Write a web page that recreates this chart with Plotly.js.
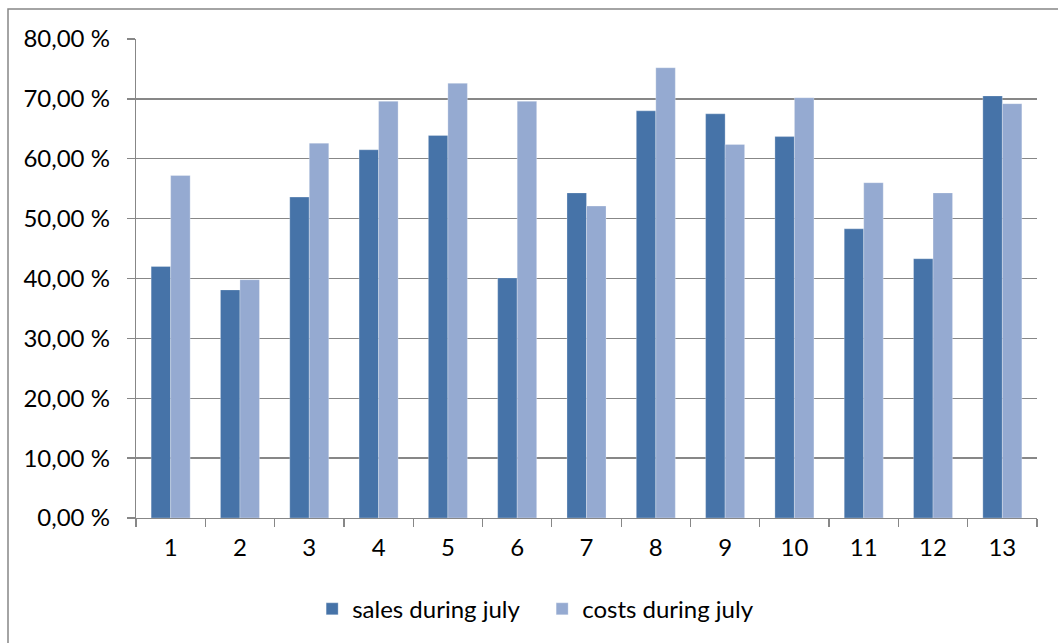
<!DOCTYPE html>
<html>
<head>
<meta charset="utf-8">
<script src="https://cdn.plot.ly/plotly-3.0.1.min.js"></script>
<style>
  html, body { margin: 0; padding: 0; background: #ffffff; }
  #chart { width: 1058px; height: 643px; }
</style>
</head>
<body>
<div id="chart"></div>
<script>
// Category labels along the x axis
const days = ['1', '2', '3', '4', '5', '6', '7', '8', '9', '10', '11', '12', '13'];

// Percent values per category
const salesJuly = [42.0, 38.1, 53.6, 61.5, 63.9, 40.1, 54.3, 68.0, 67.5, 63.7, 48.3, 43.3, 70.5];
const costsJuly = [57.2, 39.8, 62.6, 69.6, 72.6, 69.6, 52.1, 75.2, 62.4, 70.2, 56.0, 54.3, 69.2];

// Series names shown in the legend
const seriesNames = ['sales during july', 'costs during july'];

const FONT = 'Lato, "Open Sans", "DejaVu Sans", sans-serif';

const traces = [
  {
    type: 'bar',
    name: seriesNames[0],
    x: days,
    y: salesJuly,
    marker: { color: '#4673A8', line: { color: 'rgba(255,255,255,0.35)', width: 0.8 } },
    hoverinfo: 'skip'
  },
  {
    type: 'bar',
    name: seriesNames[1],
    x: days,
    y: costsJuly,
    marker: { color: '#95AAD1', line: { color: 'rgba(255,255,255,0.35)', width: 0.8 } },
    hoverinfo: 'skip'
  }
];

const layout = {
  width: 1058,
  height: 643,
  margin: { l: 136, r: 21, t: 39, b: 124 },
  paper_bgcolor: '#ffffff',
  plot_bgcolor: '#ffffff',
  separators: ', ',
  font: { family: FONT, size: 24, color: '#000000' },
  barmode: 'group',
  bargap: 0.437,
  bargroupgap: 0,
  showlegend: true,
  legend: {
    orientation: 'h',
    x: 0.1955,
    xanchor: 'left',
    y: -0.188,
    yanchor: 'middle',
    entrywidth: 185,
    font: { family: FONT, size: 24, color: '#000000' },
    itemclick: false,
    traceorder: 'normal'
  },
  xaxis: {
    type: 'category',
    showgrid: false,
    showline: true,
    linecolor: '#878787',
    linewidth: 1.3,
    ticks: 'outside',
    tickson: 'boundaries',
    ticklen: 8,
    tickcolor: '#878787',
    tickwidth: 1.3,
    ticklabelstandoff: 8,
    tickfont: { family: FONT, size: 24, color: '#000000' },
    fixedrange: true
  },
  yaxis: {
    range: [0, 80],
    dtick: 10,
    tick0: 0,
    tickformat: '.2f',
    ticksuffix: ' %',
    showgrid: true,
    gridcolor: '#878787',
    gridwidth: 1.3,
    zeroline: false,
    showline: true,
    linecolor: '#878787',
    linewidth: 1.3,
    ticks: 'outside',
    ticklen: 8,
    tickcolor: '#878787',
    tickwidth: 1.3,
    ticklabelstandoff: 12,
    tickfont: { family: FONT, size: 24, color: '#000000' },
    fixedrange: true
  },
  shapes: [
    // chart-area frame (runs off the right and bottom edges)
    {
      type: 'rect',
      xref: 'paper', yref: 'paper',
      x0: (8 - 136) / 901, x1: 1.2,
      y0: -0.5, y1: (519 - 9) / 480,
      line: { color: '#878787', width: 1.5 },
      fillcolor: 'rgba(0,0,0,0)',
      layer: 'below'
    }
  ]
};

Plotly.newPlot('chart', traces, layout, { staticPlot: true, displayModeBar: false });
</script>
</body>
</html>
